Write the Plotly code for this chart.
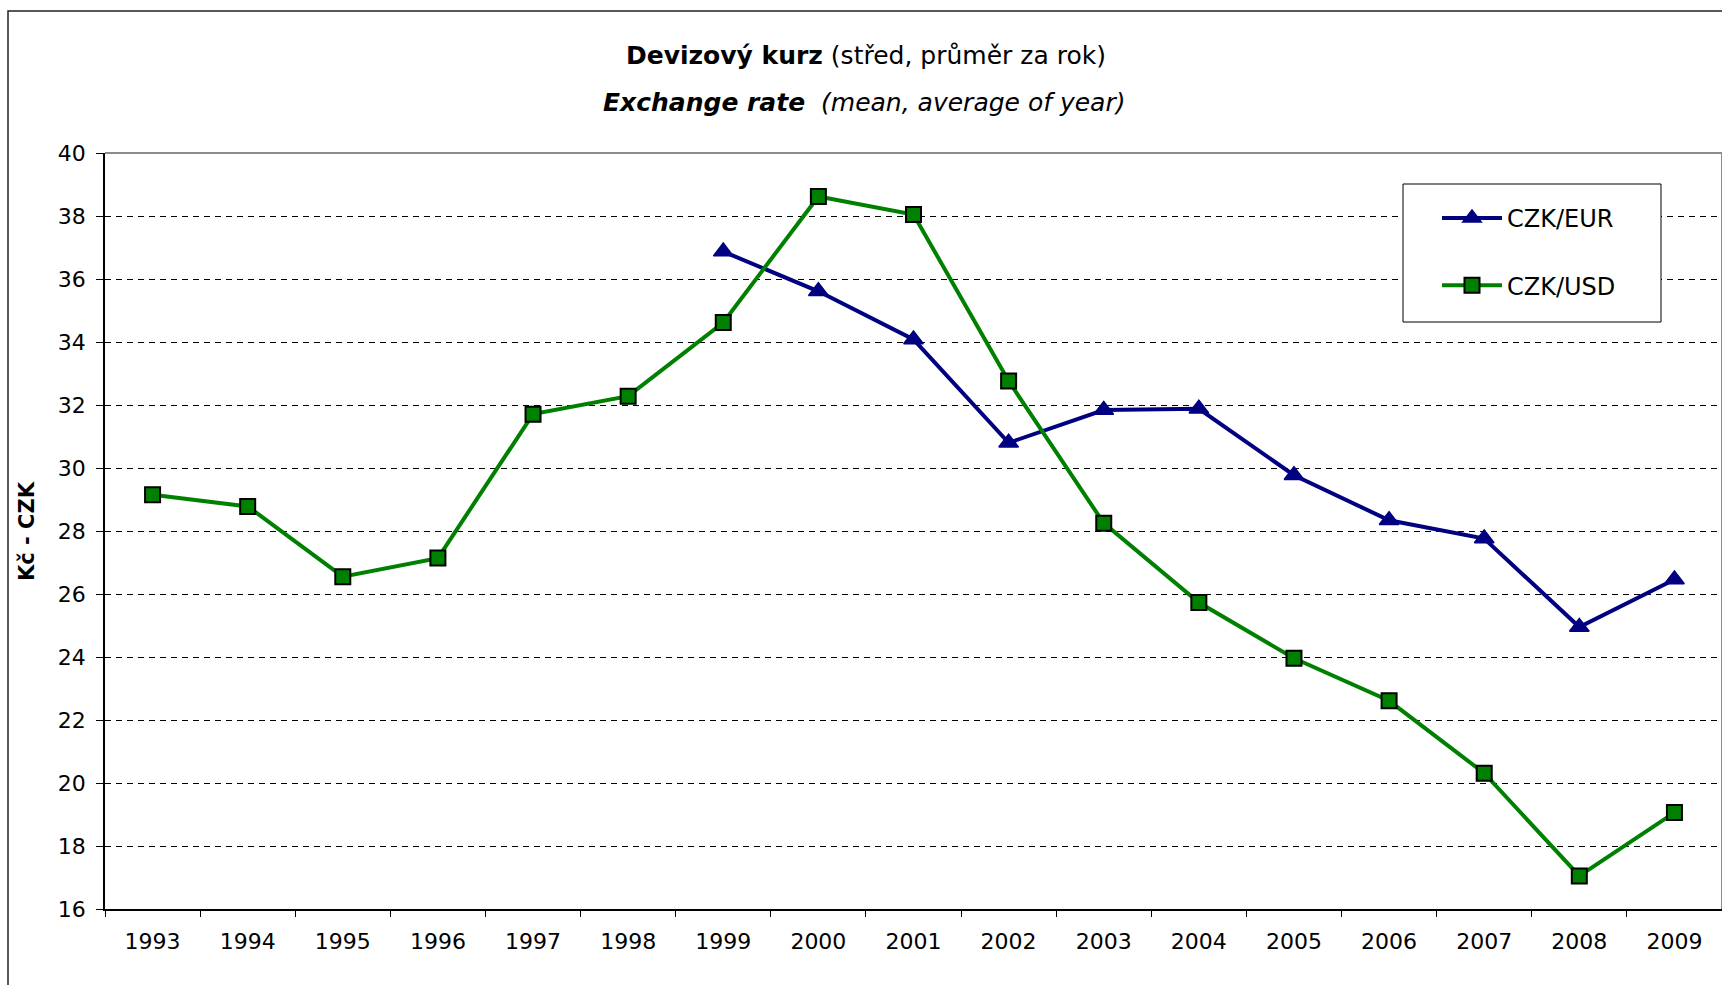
import plotly.graph_objects as go

years = ["1993", "1994", "1995", "1996", "1997", "1998", "1999", "2000", "2001",
         "2002", "2003", "2004", "2005", "2006", "2007", "2008", "2009"]
czk_usd = [29.15, 28.78, 26.55, 27.14, 31.71, 32.28, 34.62, 38.62, 38.05,
           32.76, 28.25, 25.73, 23.96, 22.61, 20.31, 17.05, 19.06]
czk_eur = [None, None, None, None, None, None, 36.87, 35.61, 34.08,
           30.80, 31.84, 31.88, 29.77, 28.34, 27.76, 24.95, 26.46]
y_ticks = [16, 18, 20, 22, 24, 26, 28, 30, 32, 34, 36, 38, 40]

FONT = "DejaVu Sans"
W, H = 1722, 985
L, R, T, B = 105, 0, 153, 76
PW, PH = W - L - R, H - T - B


def px(x):
    return (x - L) / PW


def py(y):
    return (H - B - y) / PH


fig = go.Figure()
fig.add_trace(go.Scatter(
    x=years, y=czk_eur, name="CZK/EUR", mode="lines+markers",
    line=dict(color="#000080", width=4),
    marker=dict(symbol="triangle-up", size=17, color="#000080",
                line=dict(color="#000080", width=1.5)),
    legendgroup="a", connectgaps=False,
))
fig.add_trace(go.Scatter(
    x=years, y=czk_usd, name="CZK/USD", mode="lines+markers",
    line=dict(color="#008000", width=4),
    marker=dict(symbol="square", size=15, color="#008000",
                line=dict(color="#000000", width=2)),
    legendgroup="b",
))

fig.update_layout(
    width=W, height=H,
    margin=dict(l=L, r=R, t=T, b=B, pad=0),
    paper_bgcolor="white", plot_bgcolor="white",
    font=dict(family=FONT, color="black", size=22),
    showlegend=True,
    legend=dict(
        x=px(1437), y=py(196), xanchor="left", yanchor="top",
        borderwidth=0, bgcolor="rgba(0,0,0,0)",
        font=dict(family=FONT, size=24, color="black"),
        tracegroupgap=33, itemwidth=60,
    ),
    xaxis=dict(
        type="category", range=[-0.5, 16.5], tickson="boundaries",
        ticks="outside", ticklen=6,
        tickcolor="black", tickwidth=1, showline=True, linecolor="black",
        linewidth=1.5, showgrid=False, zeroline=False,
        tickfont=dict(family=FONT, size=22, color="black"),
        ticklabelstandoff=12,
    ),
    yaxis=dict(
        range=[16, 40], tickvals=y_ticks, ticks="outside", ticklen=7,
        tickcolor="black", tickwidth=1, showline=True, linecolor="black",
        linewidth=1.5, showgrid=True, gridcolor="black", gridwidth=1,
        griddash="6px,5px", zeroline=False,
        tickfont=dict(family=FONT, size=22, color="black"),
        ticklabelstandoff=6,
    ),
    annotations=[
        dict(xref="paper", yref="paper", x=px(866), y=py(55),
             xanchor="center", yanchor="middle", showarrow=False,
             text="<b>Devizový kurz</b> (střed, průměr za rok)",
             font=dict(family=FONT, size=25, color="black")),
        dict(xref="paper", yref="paper", x=px(864), y=py(102),
             xanchor="center", yanchor="middle", showarrow=False,
             text="<b><i>Exchange rate</i></b>  <i>(mean, average of year)</i>",
             font=dict(family=FONT, size=25, color="black")),
        dict(xref="paper", yref="paper", x=px(27), y=0.5,
             xanchor="center", yanchor="middle", showarrow=False,
             textangle=-90, text="<b>Kč - CZK</b>",
             font=dict(family=FONT, size=21, color="black")),
    ],
    shapes=[
        # outer chart border
        dict(type="rect", xref="paper", yref="paper",
             x0=px(8), x1=px(1740), y0=py(1000), y1=py(11),
             line=dict(color="#222222", width=1.5), layer="below"),
        # plot area top and right border
        dict(type="line", xref="paper", yref="paper",
             x0=0, x1=1, y0=1, y1=1,
             line=dict(color="#8c8c8c", width=2), layer="above"),
        dict(type="line", xref="paper", yref="paper",
             x0=1, x1=1, y0=0, y1=1,
             line=dict(color="#8c8c8c", width=2), layer="above"),
        # legend frame
        dict(type="rect", xref="paper", yref="paper",
             x0=px(1403), x1=px(1661), y0=py(322), y1=py(184),
             line=dict(color="black", width=1), fillcolor="white",
             layer="above"),
    ],
)

fig.write_html(
    "out.html",
    config={"displayModeBar": False},
    post_script="document.body.style.margin='0';document.body.style.overflow='hidden';",
)
